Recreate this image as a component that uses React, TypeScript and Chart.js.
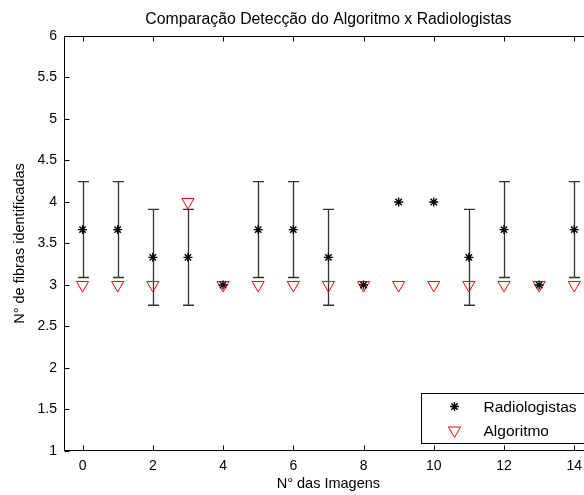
import { useEffect, useRef } from 'react';
import { Chart, registerables } from 'chart.js';
import { drawPoint } from 'chart.js/helpers';

Chart.register(...registerables);

const imagens = [0, 1, 2, 3, 4, 5, 6, 7, 8, 9, 10, 11, 12, 13, 14];
const radiologistas = [3.667, 3.667, 3.333, 3.333, 3, 3.667, 3.667, 3.333, 3, 4, 4, 3.333, 3.667, 3, 3.667];
const desvio = [0.577, 0.577, 0.577, 0.577, 0, 0.577, 0.577, 0.577, 0, 0, 0, 0.577, 0.577, 0, 0.577];
const algoritmo = [3, 3, 3, 4, 3, 3, 3, 3, 3, 3, 3, 3, 3, 3, 3];
const xTicks = [0, 2, 4, 6, 8, 10, 12, 14];
const yTicks = [1, 1.5, 2, 2.5, 3, 3.5, 4, 4.5, 5, 5.5, 6];

const titulo = 'Comparação Detecção do Algoritmo x Radiologistas';
const xLabel = 'N° das Imagens';
const yLabel = 'N° de fibras identificadas';
const serieRad = 'Radiologistas';
const serieAlg = 'Algoritmo';

const FONT = 'Arial, "Liberation Sans", Helvetica, sans-serif';

const errorBarPlugin = {
  id: 'errorBars',
  beforeDatasetsDraw(chart: any) {
    const { ctx } = chart;
    const x = chart.scales.x;
    const y = chart.scales.y;
    ctx.save();
    ctx.strokeStyle = '#333';
    ctx.lineWidth = 1.3;
    imagens.forEach((xi, i) => {
      const e = desvio[i];
      if (!e) return;
      const px = Math.round(x.getPixelForValue(xi)) + 0.5;
      const t = y.getPixelForValue(radiologistas[i] + e);
      const b = y.getPixelForValue(radiologistas[i] - e);
      ctx.beginPath();
      ctx.moveTo(px, t);
      ctx.lineTo(px, b);
      ctx.moveTo(px - 5.5, t);
      ctx.lineTo(px + 5.5, t);
      ctx.moveTo(px - 5.5, b);
      ctx.lineTo(px + 5.5, b);
      ctx.stroke();
    });
    ctx.restore();
  },
};

const boxPlugin = {
  id: 'matlabBox',
  afterDatasetsDraw(chart: any) {
    const { ctx, chartArea } = chart;
    const x = chart.scales.x;
    const y = chart.scales.y;
    const L = Math.round(chartArea.left) - 0.5;
    const R = Math.round(chartArea.right) - 0.5;
    const T = Math.round(chartArea.top) + 0.5;
    const B = Math.round(chartArea.bottom) - 0.5;
    ctx.save();
    ctx.strokeStyle = '#000';
    ctx.lineWidth = 1;
    ctx.beginPath();
    ctx.rect(L, T, R - L, B - T);
    x.ticks.forEach((t: any) => {
      const px = Math.round(x.getPixelForValue(t.value)) + 0.5;
      ctx.moveTo(px, B);
      ctx.lineTo(px, B - 5);
      ctx.moveTo(px, T);
      ctx.lineTo(px, T + 5);
    });
    y.ticks.forEach((t: any) => {
      const py = Math.round(y.getPixelForValue(t.value)) + 0.5;
      ctx.moveTo(L, py);
      ctx.lineTo(L + 5, py);
      ctx.moveTo(R, py);
      ctx.lineTo(R - 5, py);
    });
    ctx.stroke();
    ctx.restore();
  },
};

const legendPlugin = {
  id: 'matlabLegend',
  afterDraw(chart: any) {
    const { ctx, chartArea } = chart;
    const right = chartArea.right - 3;
    const bottom = chartArea.bottom - 8;
    const w = 168;
    const h = 50;
    const left = Math.round(right - w) + 0.5;
    const top = Math.round(bottom - h) + 0.5;
    ctx.save();
    ctx.fillStyle = '#fff';
    ctx.fillRect(left, top, w, h);
    ctx.strokeStyle = '#000';
    ctx.lineWidth = 1;
    ctx.strokeRect(left, top, w, h);
    ctx.font = '15.5px ' + FONT;
    ctx.textBaseline = 'middle';
    ctx.textAlign = 'left';
    chart.data.datasets.forEach((ds: any, i: number) => {
      const cy = top + 13 + i * 24;
      const cx = left + 33;
      ctx.strokeStyle = ds.borderColor;
      ctx.fillStyle = 'rgba(0,0,0,0)';
      ctx.lineWidth = ds.borderWidth;
      drawPoint(ctx, {
        pointStyle: ds.pointStyle,
        rotation: ds.rotation || 0,
        radius: ds.pointRadius,
        borderWidth: ds.borderWidth,
      } as any, cx, cy);
      ctx.fillStyle = '#000';
      ctx.fillText(ds.label, left + 62, cy + 1);
    });
    ctx.restore();
  },
};

export default function App() {
  const ref = useRef<HTMLCanvasElement>(null);

  useEffect(() => {
    if (!ref.current) return;
    const tickFont = { family: FONT, size: 14 };
    const labelFont = { family: FONT, size: 14.5 };
    const chart = new Chart(ref.current, {
      type: 'scatter',
      data: {
        datasets: [
          {
            label: serieRad,
            data: imagens.map((v, i) => ({ x: v, y: radiologistas[i] })),
            pointStyle: 'star',
            pointRadius: 4.5,
            borderColor: '#000',
            backgroundColor: '#000',
            borderWidth: 1.4,
            showLine: false,
          } as any,
          {
            label: serieAlg,
            data: imagens.map((v, i) => ({ x: v, y: algoritmo[i] })),
            pointStyle: 'triangle',
            rotation: 180,
            pointRadius: 7,
            borderColor: '#ff0000',
            backgroundColor: 'rgba(0,0,0,0)',
            borderWidth: 1,
            showLine: false,
          } as any,
        ],
      },
      options: {
        animation: false,
        responsive: false,
        devicePixelRatio: 1,
        layout: { padding: { left: 0, right: 8.2, top: 0, bottom: 0 } },
        plugins: {
          legend: { display: false },
          tooltip: { enabled: false },
          title: {
            display: true,
            text: titulo,
            color: '#000',
            fullSize: false,
            font: { family: FONT, size: 15.8, weight: 'normal', lineHeight: 1.2 },
            padding: { top: 10, bottom: 7 },
          } as any,
        },
        scales: {
          x: {
            type: 'linear',
            min: -0.5,
            max: 14.5,
            afterBuildTicks: (s: any) => {
              s.ticks = xTicks.map((v) => ({ value: v }));
            },
            afterFit: (s: any) => {
              s.height = 44;
            },
            grid: { display: false, drawTicks: false },
            border: { display: false },
            ticks: {
              color: '#000',
              font: tickFont,
              padding: 7,
              maxRotation: 0,
              autoSkip: false,
              callback: (v: any) => String(v),
            },
            title: { display: true, text: xLabel, color: '#000', font: labelFont, padding: { top: 0, bottom: 2 } },
          },
          y: {
            type: 'linear',
            min: 1,
            max: 6,
            afterBuildTicks: (s: any) => {
              s.ticks = yTicks.map((v) => ({ value: v }));
            },
            afterFit: (s: any) => {
              s.width = 65;
            },
            grid: { display: false, drawTicks: false },
            border: { display: false },
            ticks: {
              color: '#000',
              font: tickFont,
              padding: 8,
              autoSkip: false,
              callback: (v: any) => String(v),
            },
            title: { display: true, text: yLabel, color: '#000', font: labelFont, padding: { top: 11.3, bottom: 0 } },
          },
        },
      },
      plugins: [errorBarPlugin, boxPlugin, legendPlugin],
    });
    return () => chart.destroy();
  }, []);

  return (
    <div
      style={{
        position: 'absolute',
        left: 0,
        top: 0,
        width: 584,
        height: 495,
        overflow: 'hidden',
        background: '#fff',
      }}
    >
      <canvas ref={ref} width={600} height={495} style={{ display: 'block' }} />
    </div>
  );
}
